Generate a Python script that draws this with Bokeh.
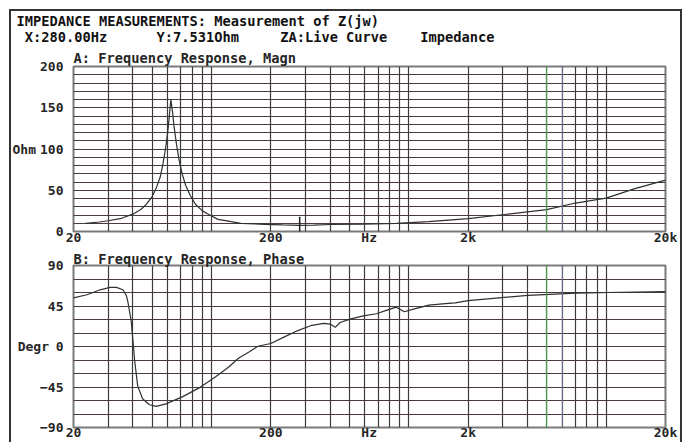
import math
from bokeh.plotting import figure
from bokeh.models import FixedTicker, Title, Span, Range1d, InlineStyleSheet
from bokeh.layouts import column
from bokeh.embed import file_html
from bokeh.resources import INLINE

# ---------------- data ----------------
mag_freq = [23, 27, 30, 35, 40, 44, 46.6, 50, 52.4, 55, 56.6, 58.5, 60, 61.3,
            62.3, 63.5, 64.6, 66.5, 68.4, 71, 74, 78, 83, 90, 97, 108, 126,
            141, 186, 230, 280, 330, 400, 590, 866, 1260, 2000, 3060, 5000,
            7000, 10000, 14000, 20000]
mag_ohm = [9.9, 11.5, 13, 16, 21, 27, 32.5, 42, 52, 66, 80, 100, 120, 142,
           160, 145, 128, 106, 88, 70, 56, 44, 33, 25, 20.6, 14.7, 11.9,
           9.9, 8.7, 8.0, 7.5, 7.8, 8.5, 8.8, 9.9, 11.9, 15.5, 20.6, 26.6,
           34.5, 40.5, 52, 62.3]

phase_freq = [20, 23.4, 27.3, 30.6, 33, 35.6, 37, 37.7, 39.2, 40, 40.8, 42.3,
              44.8, 48.5, 52.4, 58.8, 71.2, 86.6, 104.6, 122, 137, 155, 172,
              200, 233, 274, 318, 371, 400, 424, 449, 504, 588, 686, 770, 864,
              950, 1045, 1264, 1534, 1717, 2000, 3060, 4010, 7050, 12000, 20000]
phase_deg = [54, 57.5, 63, 65.7, 65.7, 63, 57, 50, 28.5, 7, -15, -44,
             -58, -64.7, -66.6, -63.7, -56, -46, -34, -23, -13, -6, 0.3,
             3.3, 10.4, 17.7, 23.1, 25.6, 24.9, 21.3, 26.7, 30.4, 34, 36.4, 40.1, 43.7,
             38.6, 41.2, 46, 47.7, 48.4, 51, 54.6, 56.7, 59.2, 60.3, 61]

cursor_freq = [280.0]
cursor_ohm = [7.531]

x_tick_values = [20, 200, 630, 2000, 20000]
x_tick_labels = ["20", "200", "Hz", "2k", "20k"]
x_grid_values = [m * 10 ** d for d in (1, 2, 3) for m in range(2, 11)] + [20000]
mag_ticks = [0, 50, 100, 150, 200]
mag_grid = list(range(0, 201, 10))
phase_ticks = [-90, -45, 0, 45, 90]
phase_grid = list(range(-90, 91, 15))

NB = "\u00a0"
header_1 = "IMPEDANCE MEASUREMENTS: Measurement of Z(jw)"
header_2 = (NB + "X:280.00Hz" + NB * 6 + "Y:7.531Ohm" + NB * 5 +
            "ZA:Live Curve" + NB * 4 + "Impedance")
title_a = "A: Frequency Response, Magn"
title_b = "B: Frequency Response, Phase"
label_a = "Ohm"
label_b = "Degr"

FONT = "DejaVu Sans Mono"
FS = "13px"
FS_T = "13.7px"
INK = "#262626"


def make_title(text, offset, standoff, color=INK):
    return Title(text=text, align="left", offset=offset, standoff=standoff,
                 text_font=FONT, text_font_size=FS_T, text_font_style="bold",
                 text_color=color)


def style(p, y_ticks, y_grid, y_label, label_standoff, x_label_standoff):
    p.xgrid.ticker = FixedTicker(ticks=x_grid_values)
    p.ygrid.ticker = FixedTicker(ticks=y_grid)
    p.xgrid.grid_line_color = "#3c3c3c"
    p.ygrid.grid_line_color = "#4a3a3a"
    p.xgrid.grid_line_width = 1.2
    p.ygrid.grid_line_width = 1.2
    p.xaxis.ticker = FixedTicker(ticks=x_tick_values)
    p.xaxis.major_label_overrides = dict(zip(x_tick_values, x_tick_labels))
    p.yaxis.ticker = FixedTicker(ticks=y_ticks)
    for ax in (p.xaxis, p.yaxis):
        ax.axis_line_color = None
        ax.major_tick_line_color = None
        ax.minor_tick_line_color = None
        ax.major_tick_out = 0
        ax.major_tick_in = 0
        ax.minor_tick_out = 0
        ax.major_label_text_font = FONT
        ax.major_label_text_font_size = FS
        ax.major_label_text_font_style = "bold"
        ax.major_label_text_color = INK
    p.xaxis.major_label_standoff = x_label_standoff
    p.yaxis.major_label_standoff = 10
    p.yaxis.axis_label = y_label
    p.yaxis.axis_label_orientation = "horizontal"
    p.yaxis.axis_label_standoff = label_standoff
    p.yaxis.axis_label_text_font = FONT
    p.yaxis.axis_label_text_font_size = FS
    p.yaxis.axis_label_text_font_style = "bold"
    p.yaxis.axis_label_text_color = INK
    p.outline_line_color = "#7a7a7a"
    p.outline_line_width = 2
    p.background_fill_color = "white"
    p.border_fill_color = "white"
    p.add_layout(Span(location=5000, dimension="height", line_color="#4caf50", line_width=1))
    p.add_layout(Span(location=6000, dimension="height", line_color="#727a9c", line_width=1))


p1 = figure(width=684, height=247, x_axis_type="log",
            x_range=Range1d(20, 20000), y_range=Range1d(0, 200),
            output_backend="svg", toolbar_location=None, title=None,
            min_border_left=73, min_border_right=19, min_border_top=66,
            min_border_bottom=15)
style(p1, mag_ticks, mag_grid, label_a, 1, -2)
p1.add_layout(make_title(title_a, 0, 1), "above")
p1.add_layout(make_title(header_1 + "\n" + header_2, -57, 6, "#111"), "above")
p1.line(mag_freq, mag_ohm, line_color="#303030", line_width=1.2)
p1.scatter(cursor_freq, cursor_ohm, marker="dash", angle=math.pi / 2,
           size=17, line_color="#202020", line_width=1.5)

p2 = figure(width=684, height=195, x_axis_type="log",
            x_range=Range1d(20, 20000), y_range=Range1d(-90, 90),
            output_backend="svg", toolbar_location=None, title=None,
            min_border_left=73, min_border_right=19, min_border_top=18,
            min_border_bottom=14)
style(p2, phase_ticks, phase_grid, label_b, -12, -3)
p2.add_layout(make_title(title_b, 0, -2), "above")
p2.line(phase_freq, phase_deg, line_color="#303030", line_width=1.2)

frame_css = InlineStyleSheet(css="""
:host::after {
  content: "";
  position: absolute;
  left: 9px;
  top: 9px;
  width: 673px;
  height: 433px;
  box-sizing: border-box;
  border-left: 2px solid #333;
  border-right: 2px solid #333;
  border-top: 2px solid #333;
  pointer-events: none;
  z-index: 10;
}
""")

layout = column(p1, p2, stylesheets=[frame_css])

open("out.html", "w").write(file_html(layout, INLINE))
